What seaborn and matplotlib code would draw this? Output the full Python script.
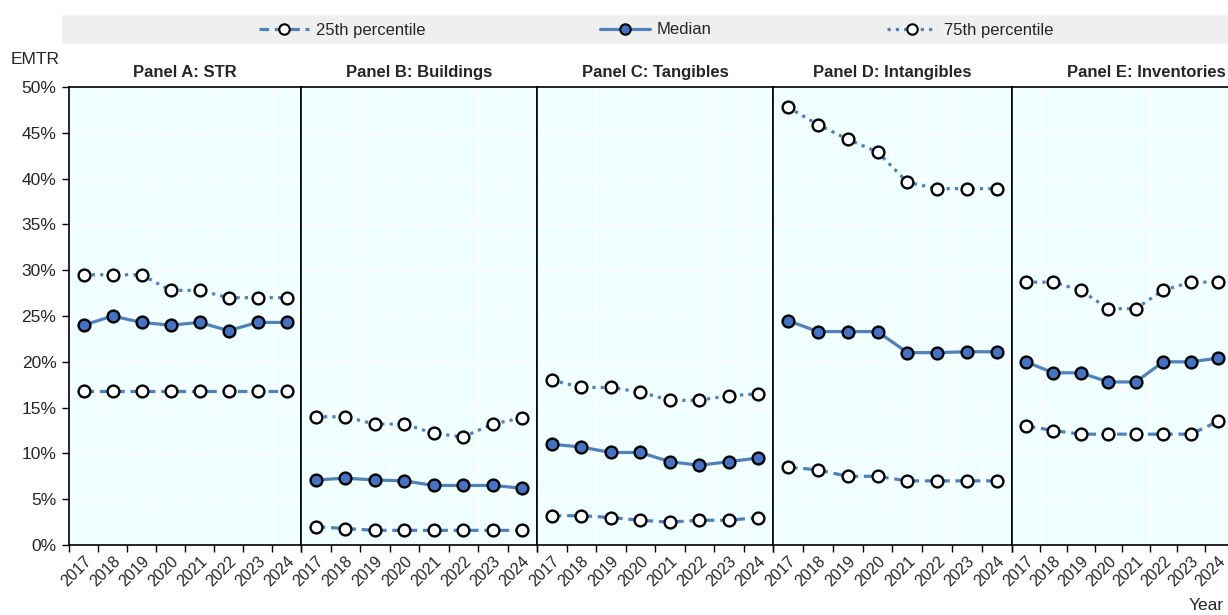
import numpy as np
import pandas as pd
import matplotlib
matplotlib.use("Agg")
import matplotlib.pyplot as plt
import matplotlib.transforms as mtransforms
from matplotlib.patches import Rectangle
from matplotlib.lines import Line2D
import seaborn as sns

years = ["2017", "2018", "2019", "2020", "2021", "2022", "2023", "2024"]
panels = ["Panel A: STR", "Panel B: Buildings", "Panel C: Tangibles",
          "Panel D: Intangibles", "Panel E: Inventories"]

p25 = [
    [16.8, 16.8, 16.8, 16.8, 16.8, 16.8, 16.8, 16.8],
    [2.0, 1.8, 1.6, 1.6, 1.6, 1.6, 1.6, 1.6],
    [3.2, 3.2, 3.0, 2.7, 2.5, 2.7, 2.7, 3.0],
    [8.5, 8.2, 7.5, 7.5, 7.0, 7.0, 7.0, 7.0],
    [13.0, 12.5, 12.1, 12.1, 12.1, 12.1, 12.1, 13.5],
]
median = [
    [24.0, 25.0, 24.3, 24.0, 24.3, 23.4, 24.3, 24.3],
    [7.1, 7.3, 7.1, 7.0, 6.5, 6.5, 6.5, 6.2],
    [11.0, 10.7, 10.1, 10.1, 9.1, 8.7, 9.1, 9.5],
    [24.5, 23.3, 23.3, 23.3, 21.0, 21.0, 21.1, 21.1],
    [20.0, 18.8, 18.8, 17.8, 17.8, 20.0, 20.0, 20.4],
]
p75 = [
    [29.5, 29.5, 29.5, 27.8, 27.8, 27.0, 27.0, 27.0],
    [14.0, 14.0, 13.2, 13.2, 12.2, 11.8, 13.2, 13.9],
    [18.0, 17.2, 17.2, 16.7, 15.8, 15.8, 16.3, 16.5],
    [47.8, 45.9, 44.3, 42.9, 39.6, 38.9, 38.9, 38.9],
    [28.7, 28.7, 27.8, 25.8, 25.8, 27.8, 28.7, 28.7],
]

line_col = "#4F81BD"
fill_col = "#4472C4"
bg_col = "#F0FFFF"

sns.set_style("white", {"axes.facecolor": bg_col})
plt.rcParams["font.family"] = ["Liberation Sans", "DejaVu Sans"]
plt.rcParams["font.size"] = 12

W, H = 1228, 615
fig = plt.figure(figsize=(W / 100, H / 100), dpi=100)

# panel edges in pixels (last panel runs slightly past the right edge, as in the source)
edges = [69, 301, 537, 773, 1012, 1232]
y_bot, y_top = 545, 87

styles = {
    "25th percentile": dict(linestyle=(0, (3, 1.8)), mfc="white"),
    "Median": dict(linestyle="-", mfc=fill_col),
    "75th percentile": dict(linestyle=(0, (1, 1.6)), mfc="white"),
}

x = np.arange(len(years))
for i, name in enumerate(panels):
    l, r = edges[i], edges[i + 1]
    ax = fig.add_axes([l / W, 1 - y_bot / H, (r - l) / W, (y_bot - y_top) / H])
    for label, vals in [("25th percentile", p25[i]), ("Median", median[i]),
                        ("75th percentile", p75[i])]:
        st = styles[label]
        sns.lineplot(x=x, y=vals, ax=ax, color=line_col, linewidth=2.3,
                     linestyle=st["linestyle"], marker="o", markersize=8.5,
                     markerfacecolor=st["mfc"], markeredgecolor="black",
                     markeredgewidth=1.7, zorder=3)
    ax.set_xlim(-0.5, 7.5)
    ax.set_ylim(0, 50)
    ax.set_xticks(x)
    ax.set_xticklabels(years, rotation=45, ha="right", rotation_mode="anchor")
    dx = -8 if i < 4 else -12
    shift = mtransforms.ScaledTranslation(dx / 100, 0, fig.dpi_scale_trans)
    for t in ax.get_xticklabels():
        t.set_transform(t.get_transform() + shift)
    ax.set_xticks(np.arange(-0.5, 8, 1), minor=True)
    ax.tick_params(axis="x", which="major", length=0, pad=6, labelsize=11.5)
    ax.tick_params(axis="x", which="minor", length=5, width=1, color="black",
                   bottom=True)
    ax.set_yticks(np.arange(0, 51, 5))
    ax.grid(axis="x", which="minor", color="white", linewidth=1)
    ax.grid(axis="y", which="major", color="white", linewidth=1)
    ax.set_axisbelow(True)
    for s in ax.spines.values():
        s.set_visible(True)
        s.set_color("black")
        s.set_linewidth(1.2)
    if i == 0:
        ax.set_yticklabels([f"{v}%" for v in range(0, 51, 5)])
        ax.tick_params(axis="y", length=5, width=1, color="black", left=True,
                       labelsize=12.5, pad=4)
    else:
        ax.tick_params(axis="y", left=False, labelleft=False)
    ax.set_xlabel("")
    ax.set_ylabel("")
    tx = 0.5 if i < 4 else (1146 - l) / (r - l)
    ax.set_title(name, fontweight="bold", fontsize=12, pad=7, x=tx)

# legend band
fig.patches.append(Rectangle((62 / W, 1 - 44 / H), (W - 62) / W, 29 / H,
                             transform=fig.transFigure, facecolor="#EFEFEF",
                             edgecolor="none", zorder=0))
handles = [Line2D([], [], color=line_col, linewidth=2.3, marker="o",
                  markersize=7.5, markeredgecolor="black", markeredgewidth=1.5,
                  linestyle=styles[k]["linestyle"],
                  markerfacecolor=styles[k]["mfc"]) for k in styles]
fig.legend(handles, list(styles.keys()), loc="center",
           bbox_to_anchor=(656 / W, 1 - 30 / H), ncol=3, frameon=False,
           fontsize=12, handlelength=3.0, handletextpad=0.4, columnspacing=10.5)

fig.text(35 / W, 1 - 60 / H, "EMTR", ha="center", va="center", fontsize=12.5)
fig.text(1206 / W, 1 - 605 / H, "Year", ha="center", va="center", fontsize=12.5)

fig.savefig("out.png", dpi=100)
